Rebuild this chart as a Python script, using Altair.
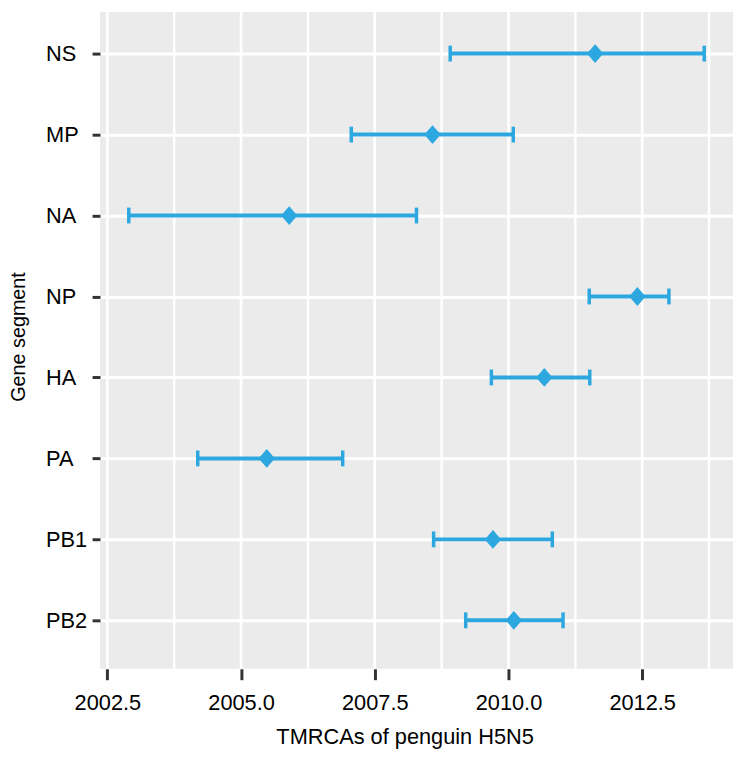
import altair as alt
import pandas as pd

segments = ["NS", "MP", "NA", "NP", "HA", "PA", "PB1", "PB2"]
tmrca = [2011.62, 2008.58, 2005.90, 2012.41, 2010.67, 2005.48, 2009.71, 2010.10]
lower = [2008.91, 2007.06, 2002.90, 2011.51, 2009.68, 2004.19, 2008.60, 2009.20]
upper = [2013.66, 2010.09, 2008.28, 2013.00, 2011.52, 2006.90, 2010.82, 2011.02]
major_breaks = [2002.5, 2005.0, 2007.5, 2010.0, 2012.5]
minor_breaks = [2003.75, 2006.25, 2008.75, 2011.25, 2013.75]

df = pd.DataFrame({"segment": segments, "tmrca": tmrca, "lower": lower, "upper": upper})
minor_df = pd.DataFrame({"v": minor_breaks})
major_df = pd.DataFrame({"v": major_breaks})

lo, hi = min(lower), max(upper)
pad = 0.05 * (hi - lo)
xscale = alt.Scale(domain=[lo - pad, hi + pad], nice=False, zero=False)

BLUE = "#2CA7DF"
FONT = "Liberation Sans"

x_axis = alt.Axis(
    values=major_breaks, format=".1f", title="TMRCAs of penguin H5N5",
    grid=False,
    domain=False, ticks=True, tickSize=11, tickWidth=3, tickColor="#333333",
    labelFont=FONT, labelFontSize=22, labelColor="black",
    labelBaseline="alphabetic", labelPadding=30,
    titleFont=FONT, titleFontSize=22, titleFontWeight="normal", titleColor="black",
    titleX=308, titleY=76, titleBaseline="alphabetic", titleAlign="center",
)
y_axis = alt.Axis(
    title="Gene segment",
    grid=True, gridColor="white", gridWidth=3,
    domain=False, ticks=True, tickSize=8, tickWidth=3, tickColor="#333333",
    labelFont=FONT, labelFontSize=22, labelColor="black",
    labelAlign="left", labelBaseline="middle", labelPadding=47,
    titleFont=FONT, titleFontSize=20, titleFontWeight="normal", titleColor="black",
    titleAngle=270, titleX=-76, titleY=328, titleBaseline="alphabetic", titleAlign="center",
)
y_enc = alt.Y("segment:N", sort=segments, axis=y_axis,
              scale=alt.Scale(type="point", range=[42, 615], padding=0))

minor = alt.Chart(minor_df).mark_rule(color="white", strokeWidth=2.5).encode(
    x=alt.X("v:Q", scale=xscale, axis=x_axis)
)
major = alt.Chart(major_df).mark_rule(color="white", strokeWidth=2.7).encode(
    x=alt.X("v:Q", scale=xscale, axis=x_axis)
)

base = alt.Chart(df)
bars = base.mark_rule(color=BLUE, strokeWidth=4).encode(
    x=alt.X("lower:Q", scale=xscale, axis=x_axis),
    x2="upper:Q",
    y=y_enc,
)
caps = base.transform_fold(["lower", "upper"], as_=["end", "val"]).mark_tick(
    color=BLUE, size=16, thickness=3.5, orient="vertical", opacity=1
).encode(
    x=alt.X("val:Q", scale=xscale, axis=x_axis),
    y=y_enc,
)
points = base.mark_point(
    shape="M0,-1L0.87,0L0,1L-0.87,0Z", size=361, filled=True, color=BLUE, opacity=1
).encode(
    x=alt.X("tmrca:Q", scale=xscale, axis=x_axis),
    y=y_enc,
)

chart = alt.layer(minor, major, bars, caps, points).properties(
    width=640, height=664,
    autosize=alt.AutoSizeParams(type="none"),
    padding={"left": 93, "top": 0, "right": 0, "bottom": 80},
    background="white",
).configure_view(fill="#EBEBEB", strokeWidth=0)

chart.save("out.html", embed_options={"renderer": "svg", "actions": False})
